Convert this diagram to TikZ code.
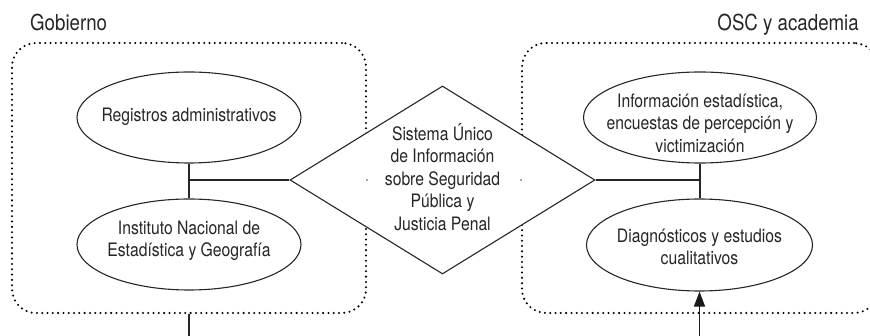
\documentclass[tikz,border=0pt]{standalone}
\usepackage{fontspec}
\setmainfont{TeX Gyre Heros}[FakeStretch=0.85]
\usetikzlibrary{shapes.geometric,arrows.meta}
\begin{document}
\begin{tikzpicture}[x=1pt,y=-1pt,
  groupbox/.style={draw=black, line width=2.3pt, dash pattern=on 0pt off 5.3pt, line cap=round, rounded corners=24pt, minimum height=270pt, inner sep=0pt},
  oval/.style={ellipse, draw=black!85, line width=1.1pt, inner sep=0pt},
  txt/.style={align=center, text=black!85, inner sep=0pt, font=\fontsize{18.5}{22.5}\selectfont},
  conn/.style={draw=black!85, line width=1.2pt},
  grouptitle/.style={font=\fontsize{22}{26}\selectfont, text=black!85, inner sep=0pt},
  speck/.style={draw=black!35, line width=1.2pt}]
\path[use as bounding box, clip] (0,0) rectangle (870,336);

% group boxes
\node[groupbox, minimum width=354pt] (gob) at (189,178) {};
\node[groupbox, minimum width=356pt] (osc) at (700,178) {};
\node[grouptitle, anchor=base west] (gobt) at (30,31) {Gobierno};
\node[grouptitle, anchor=base east] (osct) at (859,31) {OSC y academia};

% ellipses
\node[oval, minimum width=224pt, minimum height=91pt] (reg) at (189,117.5) {};
\node[txt] (regt) at (189,117) {Registros administrativos};
\node[oval, minimum width=224pt, minimum height=91pt] (inegi) at (189,244.5) {};
\node[txt] (inegit) at (189,241) {Instituto Nacional de\\Estadística y Geografía};
\node[oval, minimum width=233pt, minimum height=91pt] (info) at (700,117.5) {};
\node[txt] (infot) at (700,123) {Información estadística,\\encuestas de percepción y\\victimización};
\node[oval, minimum width=226pt, minimum height=92pt] (diag) at (699.5,245) {};
\node[txt] (diagt) at (699.5,247) {Diagnósticos y estudios\\cualitativos};

% central diamond
\node[diamond, draw=black!85, fill=white, line width=1.1pt, inner sep=0pt, minimum width=305pt, minimum height=188pt] (sis) at (442.5,180) {};
\node[txt] (sist) at (442.5,177) {Sistema Único\\de Información\\sobre Seguridad\\Pública y\\Justicia Penal};
\path[speck] ([xshift=-1pt]gob.east |- sis.center) -- ([xshift=1pt]gob.east |- sis.center);
\path[speck] ([xshift=-1pt]osc.west |- sis.center) -- ([xshift=1pt]osc.west |- sis.center);

% connectors
\path[conn] (reg.south) -- (inegi.north);
\path[conn] (sis.west) -- (sis.west -| reg.south);
\path[conn] (info.south) -- (info.south |- diag.north);
\path[conn] (sis.east) -- (sis.east -| info.south);

\coordinate (lb) at (189,340);
\coordinate (rb) at (699.5,340);
\path[conn] (inegi.south |- gob.south) -- (lb);
\draw[black!90, line width=1.2pt, -{Triangle[length=15pt,width=11pt]}] (rb) -- (diag.south);
\end{tikzpicture}
\end{document}
